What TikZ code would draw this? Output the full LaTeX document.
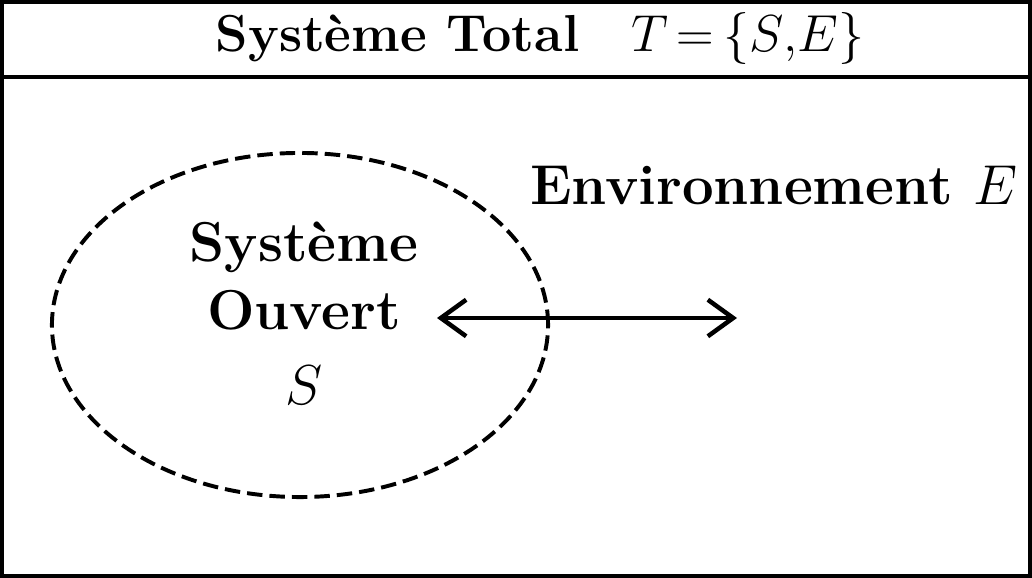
\RequirePackage{fix-cm}
\documentclass[tikz,border=0pt]{standalone}
\usepackage{amsmath}
\usetikzlibrary{arrows.meta}
\usetikzlibrary{positioning}
\usetikzlibrary{shapes.geometric}

\tikzset{
  bigtext/.style={font=\fontsize{40}{46}\selectfont\bfseries, inner sep=0pt, align=center},
  frameline/.style={line width=3.4pt},
}

\begin{document}
\begin{tikzpicture}[x=0.025cm,y=-0.025cm]
    \useasboundingbox (0,0) rectangle (1032,578);
    % cadre et en-tete
    \draw[frameline] (2,2) rectangle (1030,576);
    \draw[frameline] (2,77) -- (1030,77);
    \node[bigtext, font=\fontsize{37}{44}\selectfont\bfseries] (titre) at (540,38) {Système Total\quad $T\,{=}\,\{S{,}E\}$};
    % systeme ouvert
    \node[draw, ellipse, line width=2.8pt, dash pattern=on 11pt off 5pt, inner sep=0pt,
          minimum width=12.4cm, minimum height=8.6cm] (S) at (300,325) {};
    \node[bigtext] (ouvert) at (304,276) {Système\\[2pt]Ouvert};
    \node[bigtext] (nomS) at (304,385) {$S$};
    % environnement
    \node[bigtext, anchor=west] (env) at (530,185) {Environnement $E$};
    \coordinate (gauche) at (437,318);
    \coordinate (droite) at (737,318);
    \draw[line width=3.2pt, {Straight Barb[length=18pt,width=26pt]}-{Straight Barb[length=18pt,width=26pt]}] (gauche) -- (droite);
\end{tikzpicture}
\end{document}
